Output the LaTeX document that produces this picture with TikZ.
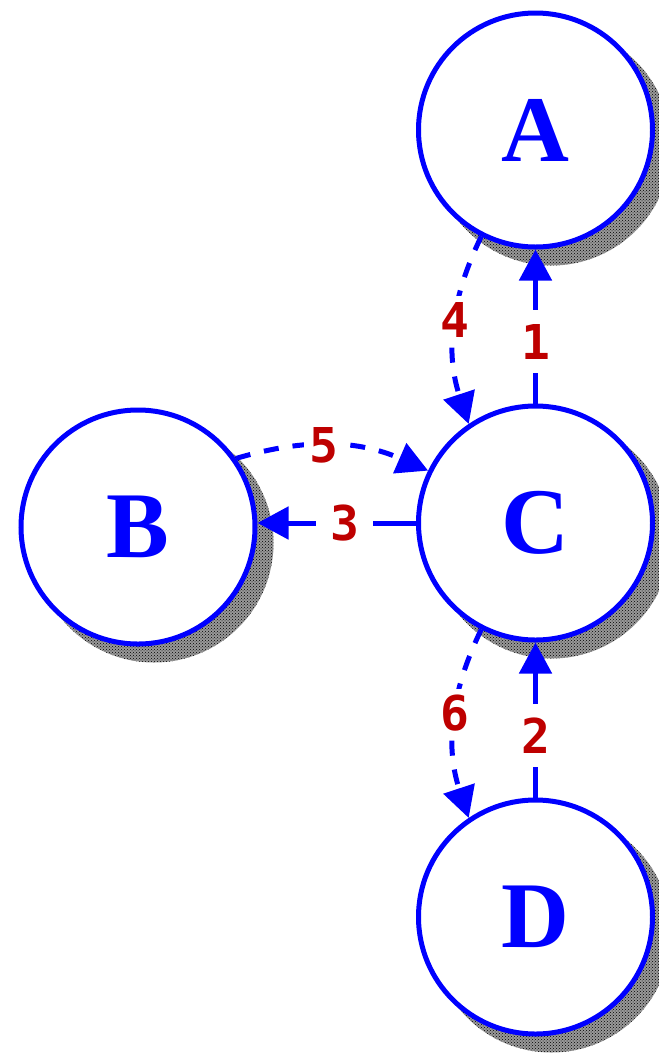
\documentclass[tikz,border=0pt]{standalone}
\usepackage{fontspec}
\newfontfamily\nodefont{Liberation Serif}
\newfontfamily\labfont{DejaVu Sans Mono}
\usetikzlibrary{arrows.meta,patterns}
\definecolor{edgeblue}{RGB}{0,0,255}
\definecolor{labred}{RGB}{190,0,0}
\begin{document}
\begin{tikzpicture}[x=1pt,y=-1pt,
  state/.style={circle,draw=edgeblue,line width=5pt,fill=white,minimum size=234pt,inner sep=0pt,
    text=edgeblue,font=\nodefont\fontsize{94}{94}\selectfont\bfseries},
  shade/.style={fill=black!40},
  shadedots/.style={pattern=crosshatch dots,pattern color=black},
  conn/.style={draw=edgeblue,line width=5pt,-{Triangle[length=31pt,width=32pt]}},
  curv/.style={conn,dash pattern=on 15pt off 14pt},
  lab/.style={fill=white,text=labred,inner sep=14pt,font=\labfont\fontsize{48}{48}\selectfont\bfseries}]
\useasboundingbox (0,0) rectangle (659,1053);
\coordinate (pA) at (535.5,130);
\coordinate (pB) at (138,527);
\coordinate (pC) at (535.5,523);
\coordinate (pD) at (535.5,917);
\foreach \p in {pA,pB,pC,pD}{
  \path[shade] (\p) ++(16,16) circle[radius=119.5];
  \path[shadedots] (\p) ++(16,16) circle[radius=119.5];}
\node[state] (A) at (pA) {A};
\node[state] (B) at (pB) {B};
\node[state] (C) at (pC) {C};
\node[state] (D) at (pD) {D};
\draw[conn] (C.north) -- node[lab,pos=0.4] {1} (A.south);
\draw[conn] (D.north) -- node[lab,pos=0.4] {2} (C.south);
\draw[conn] (C.west) -- node[lab,pos=0.45] {3} (B.east |- C.west);
\draw[curv] (A.243) to[bend right=22] node[lab,inner sep=6pt,pos=0.45] {4} (C.124);
\draw[curv] (B.35) to[bend left=20] node[lab,inner sep=6pt,pos=0.45] {5} (C.154);
\draw[curv] (C.243) to[bend right=22] node[lab,inner sep=6pt,pos=0.45] {6} (D.124);
\end{tikzpicture}
\end{document}
